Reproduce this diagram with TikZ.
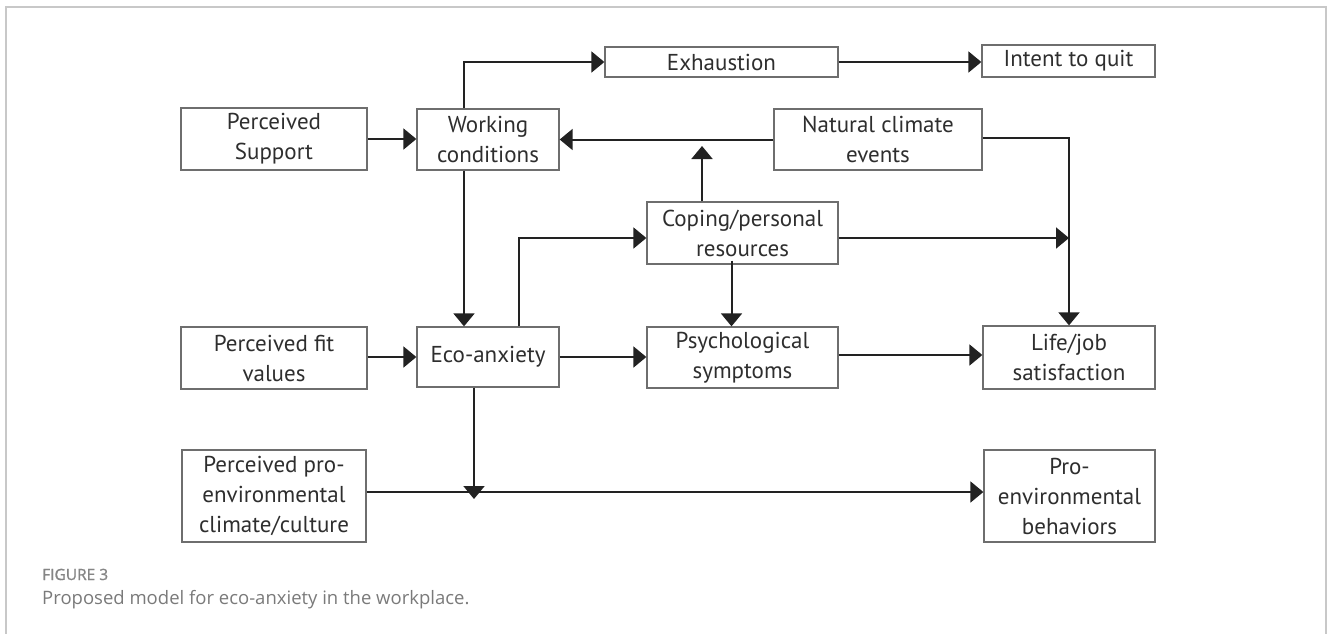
\documentclass[tikz,border=0pt]{standalone}
\usepackage{fontspec}
\setmainfont{PT Sans}
\newfontfamily\capfont{Open Sans}
\usetikzlibrary{arrows.meta}
\definecolor{boxline}{HTML}{6E6E6E}
\definecolor{arrline}{HTML}{222222}
\definecolor{frameline}{HTML}{C8C8C8}
\definecolor{capgray}{HTML}{7A7A7A}
\definecolor{figgray}{HTML}{858585}
\definecolor{txt}{HTML}{2E2E2E}
\begin{document}
\begin{tikzpicture}[x=1pt,y=-1pt,
  box/.style={draw=boxline, line width=1.3pt, rectangle, inner sep=0pt, align=center,
    font=\fontsize{23}{30}\selectfont, text=txt},
  arr/.style={draw=arrline, line width=2pt, -{Triangle[length=13pt,width=21pt]}},
  capt/.style={anchor=base west, inner sep=0pt, text=capgray}]
\useasboundingbox (0,0) rectangle (1330,633);
\draw[frameline, line width=1.5pt] (6,640) -- (6,7) -- (1326,7) -- (1326,640);

\node[box, minimum width=233pt, minimum height=30pt] (exh) at (721.5,62) {Exhaustion};
\node[box, minimum width=173pt, minimum height=32pt] (quit) at (1068.5,61) {Intent to quit};
\node[box, minimum width=186pt, minimum height=62pt] (sup) at (274,139) {Perceived\\Support};
\node[box, minimum width=142pt, minimum height=61pt] (work) at (488,139.5) {Working\\conditions};
\node[box, minimum width=208pt, minimum height=61pt] (nat) at (878,139.5) {Natural climate\\events};
\node[box, minimum width=191pt, minimum height=62pt] (cop) at (742.5,233) {Coping/personal\\resources};
\node[box, minimum width=186pt, minimum height=62pt] (fit) at (274,358) {Perceived fit\\values};
\node[box, minimum width=142pt, minimum height=60pt] (eco) at (488,357) {Eco-anxiety};
\node[box, minimum width=191pt, minimum height=61pt] (psy) at (742.5,357.5) {Psychological\\symptoms};
\node[box, minimum width=172pt, minimum height=63pt] (life) at (1069,357.5) {Life/job\\satisfaction};
\node[box, minimum width=184pt, minimum height=92pt] (pce) at (274,496) {Perceived pro-\\environmental\\climate/culture};
\node[box, minimum width=171pt, minimum height=92pt] (peb) at (1069.5,496) {Pro-\\environmental\\behaviors};

\coordinate (m1) at (702,146);
\coordinate (m2) at (1069,238);
\coordinate (m3) at (474,499);

\draw[arr] ([xshift=-24pt]work.north) |- (exh.west);
\draw[arr] (exh.east) -- (quit.west |- exh.east);
\draw[arr] (sup.east) -- (work.west |- sup.east);
\draw[arr] (nat.west) -- (work.east |- nat.west);
\draw[arr] (cop.north -| m1) -- (m1);
\draw[arr] ([yshift=1.5pt]nat.east) -| (life.north);
\draw[arr] (cop.east |- m2) -- (m2);
\draw[arr] ([xshift=-24pt]work.south) -- ([xshift=-24pt]eco.north);
\draw[arr] ([xshift=31pt]eco.north) |- (cop.west |- m2);
\draw[arr] ([xshift=-11pt,yshift=4pt]cop.south) -- ([xshift=-11pt]psy.north);
\draw[arr] (fit.east |- eco.west) -- (eco.west);
\draw[arr] (eco.east) -- (psy.west |- eco.east);
\draw[arr] ([yshift=2.5pt]psy.east) -- ([yshift=2.5pt]life.west);
\draw[arr] (eco.south -| m3) -- (m3);
\draw[arr] ([yshift=4pt]pce.east) -- ([yshift=4pt]peb.west);

\node[capt, font=\capfont\fontsize{15.5}{17}\selectfont\addfontfeatures{FakeBold=1.2}, text=figgray] (fig) at (42,580) {FIGURE 3};
\node[capt, font=\capfont\fontsize{18.5}{20}\selectfont] (cap) at (42,604) {Proposed model for eco-anxiety in the workplace.};
\end{tikzpicture}
\end{document}
